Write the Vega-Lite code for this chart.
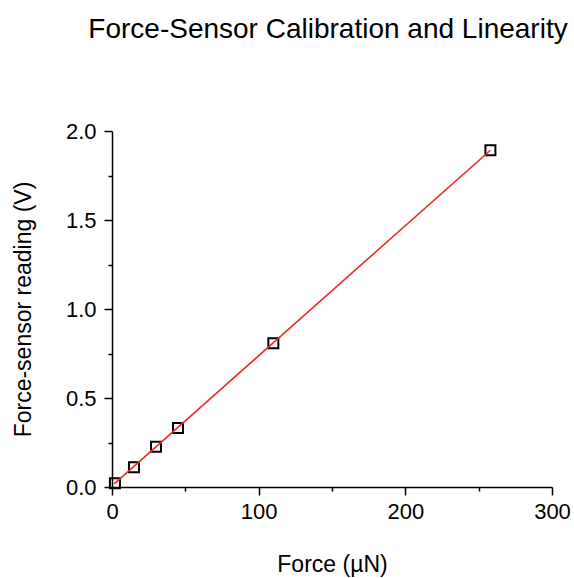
{
  "$schema": "https://vega.github.io/schema/vega-lite/v6.json",
  "width": 440,
  "height": 356,
  "autosize": {"type": "none"},
  "padding": {"left": 112, "top": 131, "right": 22, "bottom": 91},
  "background": "white",
  "title": {
    "text": "Force-Sensor Calibration and Linearity",
    "font": "Liberation Sans",
    "fontSize": 28,
    "fontWeight": "normal",
    "color": "black",
    "anchor": "middle",
    "offset": 76,
    "dx": -4
  },
  "config": {
    "view": {"stroke": null},
    "axis": {
      "labelFont": "Liberation Sans",
      "titleFont": "Liberation Sans",
      "labelFontSize": 22,
      "titleFontSize": 23,
      "titleFontWeight": "normal",
      "labelColor": "black",
      "titleColor": "black",
      "domainColor": "black",
      "domainWidth": 1.5,
      "tickColor": "black",
      "tickWidth": 1.5,
      "grid": false,
      "labelFlush": false
    }
  },
  "datasets": {
    "points": [
      {"force": 2, "volt": 0.021},
      {"force": 15, "volt": 0.111},
      {"force": 30, "volt": 0.226},
      {"force": 45, "volt": 0.331},
      {"force": 110, "volt": 0.807},
      {"force": 258, "volt": 1.892}
    ],
    "fit": [
      {"force": 1.5, "volt": 0.018},
      {"force": 258, "volt": 1.892}
    ]
  },
  "layer": [
    {
      "data": {"name": "points"},
      "mark": {"type": "point", "shape": "square", "filled": false, "stroke": "black", "strokeWidth": 2, "size": 100, "opacity": 1},
      "encoding": {
        "x": {
          "field": "force", "type": "quantitative",
          "scale": {"domain": [0, 300], "nice": false},
          "axis": {
            "title": "Force (µN)",
            "values": [0, 50, 100, 150, 200, 250, 300],
            "labelExpr": "datum.value % 100 === 0 ? datum.label : ''",
            "tickSize": {"condition": {"test": "datum.value % 100 === 0", "value": 8}, "value": 4},
            "labelPadding": 6,
            "titlePadding": 31
          }
        },
        "y": {
          "field": "volt", "type": "quantitative",
          "scale": {"domain": [0, 2], "nice": false},
          "axis": {
            "title": "Force-sensor reading (V)",
            "values": [0, 0.25, 0.5, 0.75, 1, 1.25, 1.5, 1.75, 2],
            "format": ".1f",
            "labelExpr": "abs(datum.value * 2 - round(datum.value * 2)) < 1e-6 ? datum.label : ''",
            "tickSize": {"condition": {"test": "abs(datum.value * 2 - round(datum.value * 2)) < 1e-6", "value": 8}, "value": 4},
            "labelPadding": 8,
            "titlePadding": 30
          }
        }
      }
    },
    {
      "data": {"name": "fit"},
      "mark": {"type": "line", "color": "#ee2a2a", "strokeWidth": 1.6},
      "encoding": {
        "x": {"field": "force", "type": "quantitative"},
        "y": {"field": "volt", "type": "quantitative"}
      }
    }
  ]
}
